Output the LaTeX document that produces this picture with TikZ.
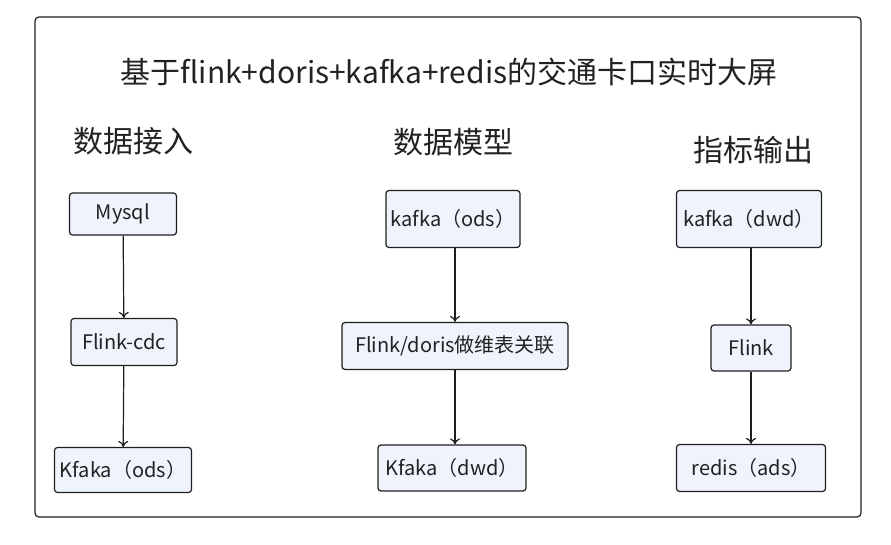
\documentclass[tikz,border=0pt]{standalone}
\usepackage{fontspec}
\setmainfont{Noto Sans CJK SC}
\usepackage{xcolor}
\definecolor{BoxFill}{HTML}{EEF3FC}
\definecolor{LineDark}{HTML}{1E1E1E}
\definecolor{TextDark}{HTML}{222222}
\usetikzlibrary{arrows.meta, positioning}

\begin{document}
\begin{tikzpicture}[x=1pt, y=-1pt,
  stagebox/.style={rectangle, rounded corners=3pt, draw=LineDark, line width=1.2pt,
                   fill=BoxFill, minimum height=45pt, align=center,
                   font=\fontsize{20}{24}\selectfont, text=TextDark, inner sep=3pt},
  colhead/.style={font=\fontsize{30}{34}\selectfont, text=TextDark},
  flow/.style={-{To[length=6pt,width=10pt]}, draw=LineDark, line width=1.2pt},
]
\useasboundingbox (0,0) rectangle (891,545);
\node[draw=LineDark, line width=1.2pt, rounded corners=4pt, minimum width=826pt,
      minimum height=500pt, inner sep=0pt] (frame) at (448,267) {};
\node[font=\fontsize{30}{34}\selectfont, text=TextDark] (title) at (449,72)
  {基于flink+doris+kafka+redis的交通卡口实时大屏};

% column heads
\node[colhead] (inHead) at (133,141) {数据接入};
\node[colhead] (modHead) at (453,142) {数据模型};
\node[colhead] (outHead) at (753,150) {指标输出};

% data ingest
\node[stagebox, minimum width=107pt, minimum height=42pt] (mysql) at (123,214) {Mysql};
\node[stagebox, minimum width=106pt, minimum height=47pt] (cdc) at (124,342) {Flink-cdc};
\node[stagebox, minimum width=137pt] (kfOds) at (123,470) {Kfaka（ods）};

% data model
\node[stagebox, minimum width=134pt, minimum height=57pt] (kaOds) at (453,219) {kafka（ods）};
\node[stagebox, minimum width=226pt, minimum height=47pt] (dimJoin) at (455,346) {Flink/doris做维表关联};
\node[stagebox, minimum width=148pt, minimum height=46pt] (kfDwd) at (452,468) {Kfaka（dwd）};

% metric output
\node[stagebox, minimum width=145pt, minimum height=57pt] (kaDwd) at (749,219) {kafka（dwd）};
\node[stagebox, minimum width=80pt, minimum height=46pt] (flink) at (751,348) {Flink};
\node[stagebox, minimum width=149pt, minimum height=47pt] (redis) at (751,468) {redis（ads）};

\draw[flow] (mysql) -- (cdc);
\draw[flow] (cdc) -- (kfOds);
\draw[flow] (kaOds.south -| dimJoin) -- (dimJoin);
\draw[flow] (dimJoin) -- (kfDwd.north -| dimJoin);
\draw[flow] (kaDwd.south -| flink) -- (flink);
\draw[flow] (flink) -- (redis.north -| flink);
\end{tikzpicture}
\end{document}
